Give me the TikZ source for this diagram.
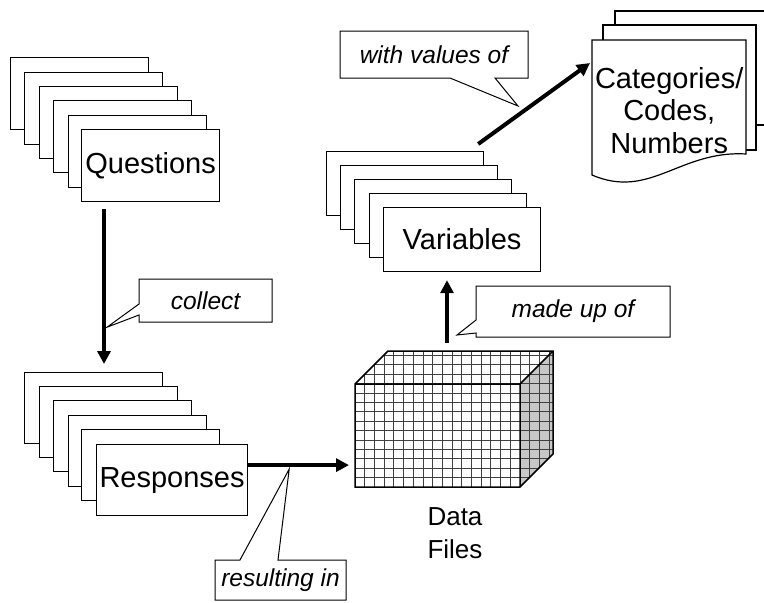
\documentclass[tikz,border=0pt]{standalone}
\usepackage{fontspec}
\setmainfont{Liberation Sans}
\usetikzlibrary{arrows.meta}

\begin{document}
\begin{tikzpicture}[
      x=1pt,y=-1pt,
      mycard/.style={
         rectangle,
         draw=black,
         fill=white,
         line width=1.2pt,
         inner sep=0pt,
         anchor=north west,
         minimum width=138pt,
         minimum height=72pt,
         font=\fontsize{29}{32.5}\selectfont},
      mynote/.style={
         rectangle,
         inner sep=0pt,
         outer sep=0pt,
         font=\fontsize{24.5}{28}\selectfont\itshape},
      mynotebox/.style={draw=black,line width=1pt},
      mygrid/.style={draw=black!75,line width=0.8pt},
      mydoc/.style={draw=black,fill=white,line width=1.2pt},
      myarrow/.style={-{Triangle[length=13pt,width=13pt]},line width=4pt}
      ]
      \useasboundingbox (0,0) rectangle (764,603);
      \foreach \x/\y [count=\n] in {10/57,24/72,39/86,53/100,68/115}
         \node[mycard] (q\n) at (\x,\y) {};
      \node[mycard] (q6) at (81,129) {Questions};
      \foreach \x/\y [count=\n] in {24/372,39/386,53/400,68/415,81/429}
         \node[mycard,minimum height=71pt] (r\n) at (\x,\y) {};
      \node[mycard,minimum width=151pt,minimum height=71pt] (r6) at (96,444) {Responses};
      \foreach \x/\y [count=\n] in {326/151,340/165,354/179,369/193}
         \node[mycard,minimum width=157pt,minimum height=64pt] (v\n) at (\x,\y) {};
      \node[mycard,minimum width=157pt,minimum height=64pt] (v5) at (383,207) {Variables};
      \draw[mydoc] (615,125) -- (615,11) -- (780,11) -- (780,125) -- cycle;
      \draw[mydoc] (603,150) -- (603,25) -- (756,25) -- (756,150) -- cycle;
      \draw[mydoc] (592,40) -- (746,40) -- (746,154)
         .. controls (680,150) and (650,200) .. (592,175) -- cycle;
      \node[rectangle,inner sep=0pt,anchor=north west,minimum width=154pt,minimum height=140pt,
         align=center,font=\fontsize{29}{32.5}\selectfont] (cats) at (592,40) {Categories/\\Codes,\\Numbers};
      \fill[black!22] (520,487) -- (520,384) -- (553,351) -- (553,454) -- cycle;
      \begin{scope}
         \clip (355,487) -- (355,384) -- (388,351) -- (553,351) -- (553,454) -- (520,487) -- cycle;
         \foreach \i in {0,...,21}
            \draw[mygrid] ({355+9.7*\i},345) -- ({355+9.7*\i},490);
         \foreach \j in {0,...,15}
            \draw[mygrid] (350,{487-9.4*\j}) -- (560,{487-9.4*\j});
      \end{scope}
      \draw[line width=1.5pt] (355,487) -- (355,384) -- (388,351) -- (553,351) -- (553,454) -- (520,487) -- cycle
         (355,384) -- (520,384) -- (553,351) (520,384) -- (520,487);
      \node[rectangle,inner sep=0pt,outer sep=0pt,anchor=north west,minimum width=198pt,minimum height=136pt] (data) at (355,351) {};
      \node[align=left,font=\fontsize{26}{33}\selectfont] (files) at (455,533) {Data\\Files};
      \coordinate (qa) at ([shift={(23,7)}]q6.south west);
      \coordinate (ra) at ([shift={(0,-15)}]r6.east);
      \coordinate (ma) at ([shift={(-7,-8)}]data.north);
      \coordinate (wa) at ([shift={(-6,-7)}]v1.north east);
      \draw[myarrow,shorten >=8pt] (qa) -- (qa |- r1.north);
      \draw[myarrow,shorten >=6pt] (ra) -- (ra -| data.west);
      \draw[myarrow,shorten >=8pt] (ma) -- (ma |- v5.south);
      \draw[myarrow] (wa) -- ([shift={(-2,23)}]cats.north west);
      \coordinate (tipC) at ([shift={(3,118)}]qa);
      \coordinate (tipR) at ([shift={(41,4)}]ra);
      \coordinate (tipM) at ([shift={(10,-8)}]ma);
      \coordinate (tipW) at (518,106);
      \node[mynote,minimum width=133pt,minimum height=43pt] (collect) at (205.5,300.5) {collect};
      \node[mynote,minimum width=194pt,minimum height=51pt] (mu) at (573,311.5) {made up of};
      \node[mynote,minimum width=188pt,minimum height=47pt] (wv) at (434,54.5) {with values of};
      \node[mynote,minimum width=131pt,minimum height=40pt] (ri) at (280.5,580) {resulting in};
      \draw[mynotebox] (collect.north west) -- (collect.north east) -- (collect.south east) -- (collect.south west)
         -- ([shift={(0,-7)}]collect.south west) -- (tipC) -- ([shift={(0,25)}]collect.north west) -- cycle;
      \draw[mynotebox] (mu.north west) -- (mu.north east) -- (mu.south east) -- (mu.south west)
         -- ([shift={(0,-4)}]mu.south west) -- (tipM) -- ([shift={(0,34)}]mu.north west) -- cycle;
      \draw[mynotebox] (wv.south west) -- (wv.north west) -- (wv.north east) -- (wv.south east)
         -- ([shift={(-33,0)}]wv.south east) -- (tipW) -- ([shift={(110,0)}]wv.south west) -- cycle;
      \draw[mynotebox] (ri.north west) -- ([shift={(25,0)}]ri.north west) -- (tipR)
         -- ([shift={(63,0)}]ri.north west) -- (ri.north east) -- (ri.south east) -- (ri.south west) -- cycle;
\end{tikzpicture}
\end{document}
